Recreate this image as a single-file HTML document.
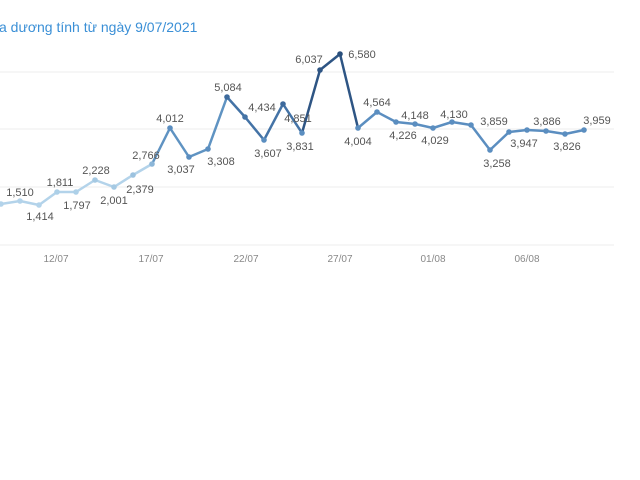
<!DOCTYPE html>
<html><head><meta charset="utf-8"><style>
body{margin:0;background:#fff;width:640px;height:480px;overflow:hidden}
svg{display:block}
text{font-family:"Liberation Sans",sans-serif}
.l{font-size:11px;fill:#555;text-anchor:middle}
.t{font-size:10px;fill:#888;text-anchor:middle}
</style></head><body>
<svg width="640" height="480" viewBox="0 0 640 480">
<text x="-8" y="32" font-size="14" fill="#3a8fd6">ca dương tính từ ngày 9/07/2021</text>
<g stroke="#ececec" stroke-width="1">
<line x1="0" y1="72" x2="614" y2="72"/><line x1="0" y1="129" x2="614" y2="129"/>
<line x1="0" y1="187" x2="614" y2="187"/><line x1="0" y1="245" x2="614" y2="245"/>
</g>
<g fill="none" stroke-width="2.5" stroke-linejoin="round">
<polyline stroke="#b3d3ea" points="1,204 20,201 39,205 57,192 76,192 95,180 114,187 133,175 152,164"/>
<polyline stroke="#5f93c2" points="152,164 170,128 189,157 208,149 227,97"/>
<polyline stroke="#4473a6" points="227,97 245,117 264,140 283,104 302,133"/>
<polyline stroke="#2e5584" points="302,133 320,70 340,54 358,128"/>
<polyline stroke="#5b8ec0" points="358,128 377,112 396,122 415,124 433,128 452,122 471,125 490,150 509,132 527,130 546,131 565,134 584,130"/>
</g>
<g fill="#5b8ec0">
<circle cx="1" cy="204" r="2.8" fill="#b3d3ea"/><circle cx="20" cy="201" r="2.8" fill="#b3d3ea"/><circle cx="39" cy="205" r="2.8" fill="#b3d3ea"/><circle cx="57" cy="192" r="2.8" fill="#add0e8"/><circle cx="76" cy="192" r="2.8" fill="#add0e8"/><circle cx="95" cy="180" r="2.8" fill="#a5c9e3"/><circle cx="114" cy="187" r="2.8" fill="#a5c9e3"/><circle cx="133" cy="175" r="2.8" fill="#9cc2df"/><circle cx="152" cy="164" r="2.8" fill="#8cb6d8"/>
<circle cx="170" cy="128" r="2.8"/><circle cx="189" cy="157" r="2.8"/><circle cx="208" cy="149" r="2.8"/><circle cx="227" cy="97" r="2.8" fill="#3d6a9c"/><circle cx="245" cy="117" r="2.8" fill="#4473a6"/><circle cx="264" cy="140" r="2.8"/><circle cx="283" cy="104" r="2.8" fill="#3d6a9c"/><circle cx="302" cy="133" r="2.8"/><circle cx="320" cy="70" r="2.8" fill="#2e5584"/><circle cx="340" cy="54" r="2.8" fill="#2a4f7c"/>
<circle cx="358" cy="128" r="2.8"/><circle cx="377" cy="112" r="2.8"/><circle cx="396" cy="122" r="2.8"/><circle cx="415" cy="124" r="2.8"/><circle cx="433" cy="128" r="2.8"/><circle cx="452" cy="122" r="2.8"/><circle cx="471" cy="125" r="2.8"/><circle cx="490" cy="150" r="2.8"/><circle cx="509" cy="132" r="2.8"/><circle cx="527" cy="130" r="2.8"/><circle cx="546" cy="131" r="2.8"/><circle cx="565" cy="134" r="2.8"/><circle cx="584" cy="130" r="2.8"/>
</g>
<g class="l">
<text x="20" y="196" class="l">1,510</text>
<text x="40" y="220" class="l">1,414</text>
<text x="60" y="186" class="l">1,811</text>
<text x="77" y="209" class="l">1,797</text>
<text x="96" y="174" class="l">2,228</text>
<text x="114" y="204" class="l">2,001</text>
<text x="140" y="193" class="l">2,379</text>
<text x="146" y="159" class="l">2,766</text>
<text x="170" y="122" class="l">4,012</text>
<text x="181" y="173" class="l">3,037</text>
<text x="221" y="165" class="l">3,308</text>
<text x="228" y="91" class="l">5,084</text>
<text x="262" y="111" class="l">4,434</text>
<text x="268" y="157" class="l">3,607</text>
<text x="298" y="122" class="l">4,851</text>
<text x="300" y="150" class="l">3,831</text>
<text x="309" y="63" class="l">6,037</text>
<text x="362" y="58" class="l">6,580</text>
<text x="358" y="145" class="l">4,004</text>
<text x="377" y="106" class="l">4,564</text>
<text x="403" y="139" class="l">4,226</text>
<text x="415" y="119" class="l">4,148</text>
<text x="435" y="144" class="l">4,029</text>
<text x="454" y="118" class="l">4,130</text>
<text x="494" y="125" class="l">3,859</text>
<text x="497" y="167" class="l">3,258</text>
<text x="524" y="147" class="l">3,947</text>
<text x="547" y="125" class="l">3,886</text>
<text x="567" y="150" class="l">3,826</text>
<text x="597" y="124" class="l">3,959</text>
</g>
<text x="56" y="262" class="t">12/07</text>
<text x="151" y="262" class="t">17/07</text>
<text x="246" y="262" class="t">22/07</text>
<text x="340" y="262" class="t">27/07</text>
<text x="433" y="262" class="t">01/08</text>
<text x="527" y="262" class="t">06/08</text>
</svg>
</body></html>
